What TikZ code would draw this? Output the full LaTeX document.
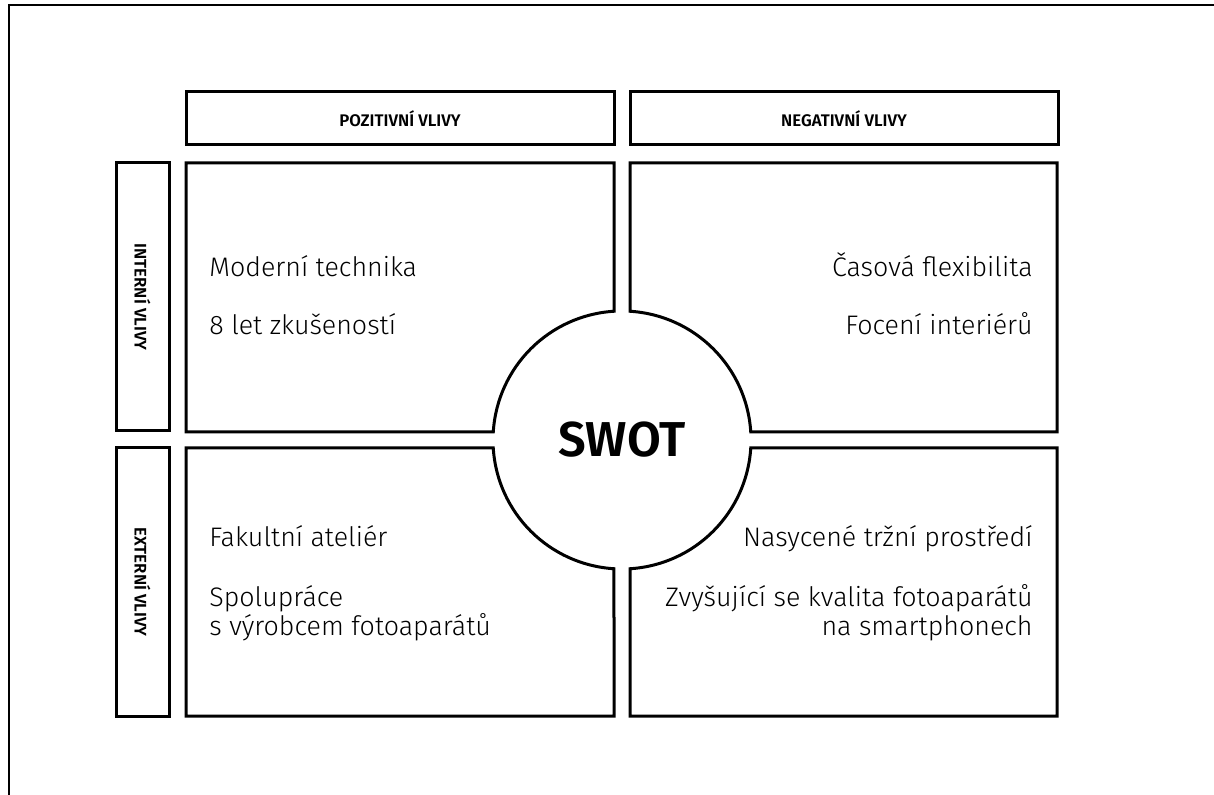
\documentclass[tikz,border=0pt]{standalone}
\usepackage{fontspec}
\setmainfont{Fira Sans Light}[BoldFont={Fira Sans SemiBold}]
\usetikzlibrary{positioning}
\tikzset{
  hdrblk/.style={draw,rectangle,line width=1.5pt,minimum width=214pt,minimum height=26.5pt,font=\fontsize{8.4}{10}\selectfont\bfseries},
  sideblk/.style={draw,rectangle,line width=1.5pt,minimum width=26.5pt,minimum height=134pt},
  sidelbl/.style={rotate=-90,font=\fontsize{8.4}{10}\selectfont\bfseries},
  quad/.style={draw,line width=1.5pt,line join=miter},
  item/.style={inner sep=0pt,font=\fontsize{13.4}{14}\selectfont},
  iteml/.style={item,anchor=base west,align=left},
  itemr/.style={item,anchor=base east,align=right},
  swotlbl/.style={font=\fontsize{24.5}{28}\selectfont\bfseries}
}

\begin{document}
\begin{tikzpicture}[x=0.5pt,y=-0.5pt]
  \useasboundingbox (0,0) rectangle (1214,795);
  % Page frame
  \draw[line width=1pt] (1214,5) -- (9,5) -- (9,795);

  % Column headers
  \node[hdrblk] (pos) at (400,118.5) {POZITIVNÍ VLIVY};
  \node[hdrblk] (neg) at (844,118.5) {NEGATIVNÍ VLIVY};

  % Row headers
  \node[sideblk] (int) at (142.5,297) {};
  \node[sidelbl] at (int.center) {INTERNÍ VLIVY};
  \node[sideblk] (ext) at (142.5,582) {};
  \node[sidelbl] at (ext.center) {EXTERNÍ VLIVY};

  % Quadrants cut by the circle
  \draw[quad] (186,163) -- (614,163) -- (614,311.25)
    arc[start angle=-93.56, end angle=-176.44, radius=129] -- (186,432) -- cycle;
  \draw[quad] (630,163) -- (1057,163) -- (1057,432) -- (750.75,432)
    arc[start angle=-3.56, end angle=-86.44, radius=129] -- cycle;
  \draw[quad] (186,448) -- (493.25,448)
    arc[start angle=176.44, end angle=93.56, radius=129] -- (614,716) -- (186,716) -- cycle;
  \draw[quad] (1057,448) -- (750.75,448)
    arc[start angle=3.56, end angle=86.44, radius=129] -- (630,716) -- (1057,716) -- cycle;

  % Centre
  \node[swotlbl] (swot) at (622,440) {SWOT};

  % Strengths
  \node[iteml] (s1) at (209,277) {Moderní technika};
  \node[iteml] (s2) at (209,335) {8 let zkušeností};
  % Weaknesses
  \node[itemr] (w1) at (1033,277) {Časová flexibilita};
  \node[itemr] (w2) at (1033,335) {Focení interiérů};
  % Opportunities
  \node[iteml] (o1) at (209,547) {Fakultní ateliér};
  \node[iteml] (o2) at (209,635) {Spolupráce\\s výrobcem fotoaparátů};
  % Threats
  \node[itemr] (t1) at (1033,547) {Nasycené tržní prostředí};
  \node[itemr] (t2) at (1033,635) {Zvyšující se kvalita fotoaparátů\\na smartphonech};
\end{tikzpicture}
\end{document}
